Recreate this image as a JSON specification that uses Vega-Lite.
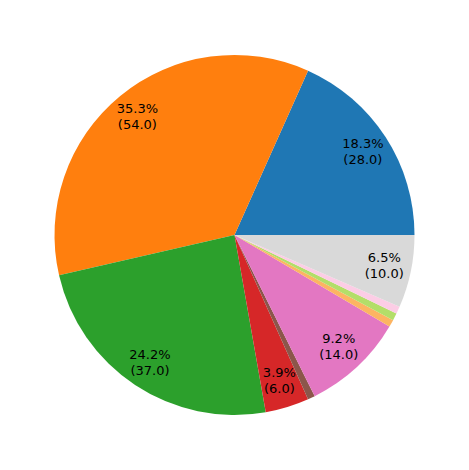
{
  "$schema": "https://vega.github.io/schema/vega-lite/v6.json",
  "autosize": {"type": "fit", "contains": "padding"},
  "width": 469,
  "height": 470,
  "padding": 0,
  "background": "white",
  "config": {"view": {"stroke": null}},
  "data": {
    "values": [
      {"idx": 1, "cat": "A", "value": 28, "label": "18.3%\n(28.0)"},
      {"idx": 2, "cat": "B", "value": 54, "label": "35.3%\n(54.0)"},
      {"idx": 3, "cat": "C", "value": 37, "label": "24.2%\n(37.0)"},
      {"idx": 4, "cat": "D", "value": 6, "label": "3.9%\n(6.0)"},
      {"idx": 5, "cat": "E", "value": 1, "label": ""},
      {"idx": 6, "cat": "F", "value": 14, "label": "9.2%\n(14.0)"},
      {"idx": 7, "cat": "G", "value": 1, "label": ""},
      {"idx": 8, "cat": "H", "value": 1, "label": ""},
      {"idx": 9, "cat": "I", "value": 1, "label": ""},
      {"idx": 10, "cat": "J", "value": 10, "label": "6.5%\n(10.0)"}
    ]
  },
  "encoding": {
    "theta": {"field": "value", "type": "quantitative", "stack": true, "scale": {"range": [1.5707963, 7.8539816]}},
    "order": {"field": "idx", "type": "quantitative", "sort": "descending"}
  },
  "layer": [
    {
      "mark": {"type": "arc", "outerRadius": 180, "strokeWidth": 0},
      "encoding": {
        "color": {
          "field": "cat", "type": "nominal", "legend": null,
          "scale": {
            "domain": ["A","B","C","D","E","F","G","H","I","J"],
            "range": ["#1f77b4","#ff7f0e","#2ca02c","#d62728","#8c564b","#e377c2","#fdb462","#b3de69","#fccde5","#d9d9d9"]
          }
        }
      }
    },
    {
      "mark": {"type": "text", "radius": 153, "font": "DejaVu Sans", "fontSize": 13, "lineBreak": "\n", "lineHeight": 16, "color": "black", "align": "center", "baseline": "middle", "dy": -8},
      "encoding": {"text": {"field": "label"}}
    }
  ]
}
